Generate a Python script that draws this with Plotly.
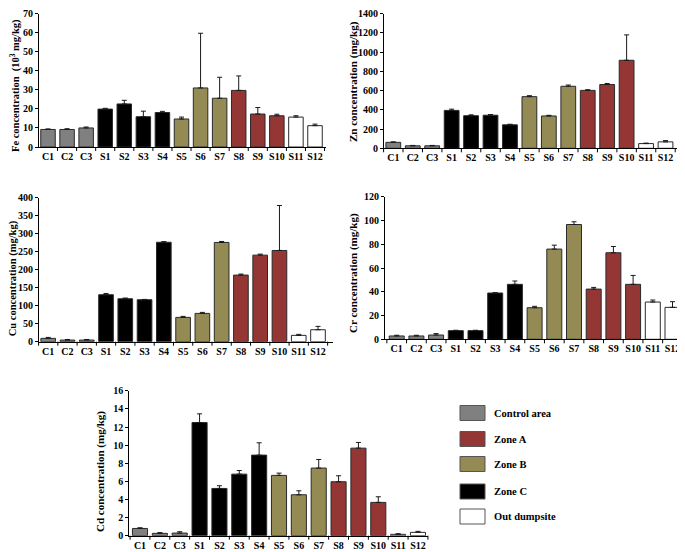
import plotly.graph_objects as go

sites = ["C1", "C2", "C3", "S1", "S2", "S3", "S4", "S5", "S6", "S7", "S8", "S9", "S10", "S11", "S12"]
groups = ["Control area"] * 3 + ["Zone C"] * 4 + ["Zone B"] * 3 + ["Zone A"] * 3 + ["Out dumpsite"] * 2

legend_labels = ["Control area", "Zone A", "Zone B", "Zone C", "Out dumpsite"]
group_colors = {"Control area": "#808080", "Zone A": "#943634", "Zone B": "#948a54",
                "Zone C": "#000000", "Out dumpsite": "#ffffff"}

fe_mean = [9.2, 9.2, 10.0, 19.9, 22.6, 15.9, 18.1, 14.7, 31.0, 25.6, 29.7, 17.3, 16.4, 15.7, 11.2]
fe_err = [0.3, 0.4, 0.5, 0.4, 1.9, 2.9, 0.6, 1.0, 28.7, 11.0, 7.6, 3.4, 0.8, 0.7, 0.8]

zn_mean = [62, 26, 26, 394, 339, 344, 244, 537, 336, 645, 602, 663, 915, 49, 67]
zn_err = [5, 4, 4, 13, 9, 7, 6, 10, 7, 13, 7, 11, 264, 5, 13]

cu_mean = [9.3, 4.6, 4.6, 130.6, 119.4, 116.7, 276.5, 67.6, 78.7, 276.0, 185.2, 240.7, 253.7, 17.6, 33.3]
cu_err = [2.6, 1.6, 1.6, 3.5, 2.0, 0.9, 1.8, 2.8, 2.8, 2.7, 2.8, 2.8, 125.0, 2.8, 9.3]

cr_mean = [2.8, 2.8, 3.6, 7.3, 7.3, 39.0, 46.3, 26.6, 76.0, 96.7, 42.3, 72.9, 46.3, 31.4, 26.9]
cr_err = [0.6, 0.6, 1.2, 0.3, 0.3, 0.3, 2.8, 1.2, 3.3, 2.3, 1.4, 5.3, 7.5, 1.7, 4.8]

cd_mean = [0.80, 0.26, 0.29, 12.50, 5.22, 6.80, 8.90, 6.66, 4.52, 7.47, 5.96, 9.67, 3.68, 0.15, 0.37]
cd_err = [0.08, 0.08, 0.15, 0.96, 0.30, 0.40, 1.36, 0.25, 0.44, 0.95, 0.66, 0.63, 0.62, 0.07, 0.11]

OFF = 8  # page body margin
W, H = 685 - OFF, 552 - OFF
FONT = "Liberation Serif"


def px(x):
    return min(max((x - OFF) / W, 0), 1)


def py(y):
    return min(max(1 - (y - OFF) / H, 0), 1)


# panel geometry (page pixels): axis start x, C1 center x, S12 center x, axis end x, y of zero, y of top
panels = [
    dict(mean=fe_mean, err=fe_err, ymax=70, dtick=10, geo=(39, 48, 315, 326, 147, 13.5),
         title="Fe concentration  (10<sup>3</sup> mg/kg)", tpos=(15, 86), tsize=10.5),
    dict(mean=zn_mean, err=zn_err, ymax=1400, dtick=200, geo=(384, 393.3, 665.5, 682, 148.3, 13.5),
         title="Zn concentration (mg/kg)", tpos=(354, 82), tsize=11),
    dict(mean=cu_mean, err=cu_err, ymax=400, dtick=50, geo=(39, 48.2, 318, 333, 341.7, 197.7),
         title="Cu concentration (mg/kg)", tpos=(13.3, 278), tsize=10.5),
    dict(mean=cr_mean, err=cr_err, ymax=120, dtick=20, geo=(385, 396.7, 672.5, 682, 339.3, 196.7),
         title="Cr concentration (mg/kg)", tpos=(354, 273), tsize=11),
    dict(mean=cd_mean, err=cd_err, ymax=16, dtick=2, geo=(129.3, 140, 418, 428, 535.7, 390.7),
         title="Cd concentration (mg/kg)", tpos=(100, 472), tsize=11),
]

fig = go.Figure()
annotations = []
shapes = []
colors = [group_colors[g] for g in groups]

for i, p in enumerate(panels, start=1):
    x0, c1, c12, x1, y0, y1 = p["geo"]
    s = (c12 - c1) / (len(sites) - 1)
    xr = [(x0 - c1) / s, (x1 - c1) / s]
    xa = "x" if i == 1 else f"x{i}"
    ya = "y" if i == 1 else f"y{i}"
    fig.add_trace(go.Bar(
        x=list(range(len(sites))), y=p["mean"], xaxis=xa, yaxis=ya, width=0.76,
        marker=dict(color=colors, line=dict(color="#2a2a2a", width=1)),
        error_y=dict(type="data", symmetric=False, array=p["err"], arrayminus=[0] * len(sites),
                     color="#1a1a1a", thickness=1, width=2.5),
        showlegend=False, hoverinfo="skip"))
    xkey = "xaxis" if i == 1 else f"xaxis{i}"
    ykey = "yaxis" if i == 1 else f"yaxis{i}"
    fig.update_layout({
        xkey: dict(domain=[px(x0), px(x1)], anchor=ya, range=xr, automargin=False,
                   tickmode="array", tickvals=list(range(len(sites))), ticktext=sites,
                   showline=True, linecolor="black", linewidth=1, ticks="",
                   showgrid=False, zeroline=False, fixedrange=True, ticklabeloverflow="allow",
                   tickfont=dict(family=FONT, size=10, color="black", weight="bold")),
        ykey: dict(domain=[py(y0), py(y1)], anchor=xa, range=[0, p["ymax"] * 1.001],
                   automargin=False, ticklabeloverflow="allow",
                   tickmode="array", tickvals=[k * p["dtick"] for k in range(int(round(p["ymax"] / p["dtick"])) + 1)],
                   showline=True, linecolor="black", linewidth=1,
                   ticks="outside", ticklen=3, tickcolor="black", showgrid=False, zeroline=False,
                   tickfont=dict(family=FONT, size=10, color="black", weight="bold")),
    })
    # boundary ticks on category axis
    for k in range(len(sites) + 1):
        bx = c1 + (k - 0.5) * s
        if bx < x0 - 0.5 or bx > x1 + 0.5:
            continue
        shapes.append(dict(type="line", xref="paper", yref="paper",
                           x0=px(bx), x1=px(bx), y0=py(y0), y1=py(y0 + 4),
                           line=dict(color="black", width=1)))
    tx, ty = p["tpos"]
    annotations.append(dict(text=p["title"], xref="paper", yref="paper", x=px(tx), y=py(ty),
                            showarrow=False, textangle=-90, xanchor="center", yanchor="middle",
                            font=dict(family=FONT, size=p["tsize"], color="black", weight="bold")))

# legend
leg_y = [413, 439, 464, 491.5, 516.5]
for lab, yc in zip(legend_labels, leg_y):
    shapes.append(dict(type="rect", xref="paper", yref="paper",
                       x0=px(460), x1=px(485), y0=py(yc - 7.5), y1=py(yc + 7.5),
                       fillcolor=group_colors[lab], line=dict(color="#555555", width=1)))
    annotations.append(dict(text=lab, xref="paper", yref="paper", x=px(492), y=py(yc),
                            showarrow=False, xanchor="left", yanchor="middle",
                            font=dict(family=FONT, size=10.5, color="black", weight="bold")))

fig.update_layout(width=W, height=H, margin=dict(l=0, r=0, t=0, b=0, autoexpand=False),
                  paper_bgcolor="white", plot_bgcolor="white",
                  annotations=annotations, shapes=shapes, bargap=0.24)
fig.write_html("out.html")
